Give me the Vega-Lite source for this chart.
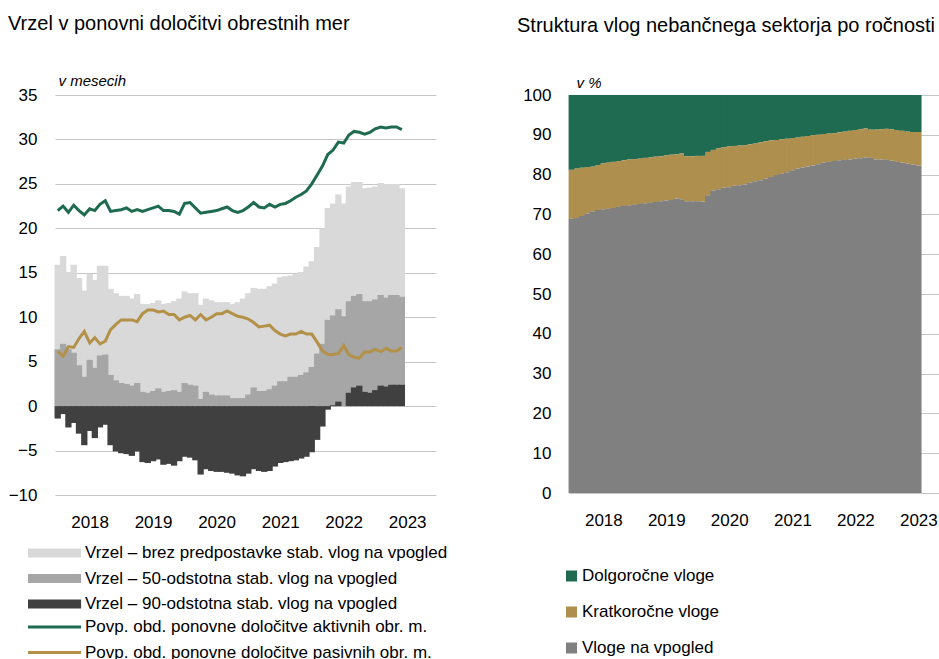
{
"$schema":"https://vega.github.io/schema/vega-lite/v6.json",
"background":"white",
"padding":{"left":8,"top":13,"right":0,"bottom":0},
"spacing":69,
"config":{"font":"Liberation Sans","view":{"stroke":null},
"title":{"fontSize":20,"fontWeight":"normal","anchor":"start","frame":"group","color":"#000000","font":"Liberation Sans"},
"axis":{"labelFont":"Liberation Sans","titleFont":"Liberation Sans","labelColor":"#000000","titleColor":"#000000"},
"legend":{"labelFont":"Liberation Sans","labelColor":"#000000","labelFontSize":17,"labelLimit":600,"padding":0,"title":null}},
"datasets":{
"left":[
{"m":"2017-07","A":15.9,"B":6.4,"C":-1.4,"akt":22.0,"pas":6.2},
{"m":"2017-08","A":16.9,"B":7.0,"C":-0.9,"akt":22.5,"pas":5.6},
{"m":"2017-09","A":15.1,"B":6.4,"C":-2.4,"akt":21.8,"pas":6.7},
{"m":"2017-10","A":15.9,"B":6.0,"C":-1.9,"akt":22.6,"pas":6.6},
{"m":"2017-11","A":14.4,"B":4.6,"C":-3.1,"akt":22.0,"pas":7.6},
{"m":"2017-12","A":13.0,"B":3.3,"C":-4.4,"akt":21.5,"pas":8.4},
{"m":"2018-01","A":14.9,"B":5.2,"C":-2.8,"akt":22.2,"pas":7.1},
{"m":"2018-02","A":14.2,"B":4.3,"C":-3.6,"akt":22.0,"pas":7.7},
{"m":"2018-03","A":15.8,"B":5.7,"C":-2.4,"akt":22.7,"pas":7.0},
{"m":"2018-04","A":15.8,"B":5.8,"C":-2.1,"akt":23.1,"pas":7.3},
{"m":"2018-05","A":13.2,"B":3.5,"C":-4.4,"akt":21.9,"pas":8.6},
{"m":"2018-06","A":12.7,"B":2.9,"C":-5.1,"akt":22.0,"pas":9.2},
{"m":"2018-07","A":12.4,"B":2.6,"C":-5.3,"akt":22.1,"pas":9.7},
{"m":"2018-08","A":12.4,"B":2.5,"C":-5.4,"akt":22.3,"pas":9.7},
{"m":"2018-09","A":12.1,"B":2.3,"C":-5.6,"akt":21.9,"pas":9.7},
{"m":"2018-10","A":12.6,"B":2.6,"C":-5.1,"akt":22.1,"pas":9.5},
{"m":"2018-11","A":11.5,"B":1.6,"C":-6.3,"akt":21.9,"pas":10.4},
{"m":"2018-12","A":11.5,"B":1.5,"C":-6.4,"akt":22.1,"pas":10.8},
{"m":"2019-01","A":11.6,"B":1.7,"C":-6.2,"akt":22.3,"pas":10.8},
{"m":"2019-02","A":11.9,"B":2.0,"C":-6.0,"akt":22.5,"pas":10.6},
{"m":"2019-03","A":11.5,"B":1.6,"C":-6.6,"akt":22.0,"pas":10.7},
{"m":"2019-04","A":11.6,"B":1.7,"C":-6.5,"akt":22.0,"pas":10.3},
{"m":"2019-05","A":11.8,"B":1.8,"C":-6.7,"akt":21.9,"pas":10.3},
{"m":"2019-06","A":12.1,"B":1.6,"C":-6.2,"akt":21.6,"pas":9.7},
{"m":"2019-07","A":12.9,"B":2.6,"C":-5.7,"akt":22.8,"pas":10.0},
{"m":"2019-08","A":12.7,"B":2.4,"C":-5.8,"akt":22.9,"pas":10.2},
{"m":"2019-09","A":12.7,"B":2.3,"C":-6.1,"akt":22.3,"pas":9.7},
{"m":"2019-10","A":11.4,"B":0.8,"C":-7.7,"akt":21.7,"pas":10.3},
{"m":"2019-11","A":12.1,"B":1.6,"C":-7.1,"akt":21.8,"pas":9.7},
{"m":"2019-12","A":11.9,"B":1.3,"C":-7.3,"akt":21.9,"pas":10.0},
{"m":"2020-01","A":11.7,"B":1.2,"C":-7.4,"akt":22.0,"pas":10.4},
{"m":"2020-02","A":11.7,"B":1.2,"C":-7.4,"akt":22.2,"pas":10.4},
{"m":"2020-03","A":11.7,"B":1.2,"C":-7.5,"akt":22.4,"pas":10.7},
{"m":"2020-04","A":11.5,"B":0.9,"C":-7.6,"akt":22.0,"pas":10.4},
{"m":"2020-05","A":11.7,"B":0.9,"C":-7.8,"akt":21.8,"pas":10.1},
{"m":"2020-06","A":12.1,"B":0.9,"C":-7.9,"akt":22.0,"pas":10.0},
{"m":"2020-07","A":12.7,"B":1.3,"C":-7.6,"akt":22.4,"pas":9.8},
{"m":"2020-08","A":13.3,"B":2.1,"C":-7.1,"akt":22.9,"pas":9.4},
{"m":"2020-09","A":13.2,"B":1.7,"C":-7.3,"akt":22.4,"pas":8.9},
{"m":"2020-10","A":13.2,"B":1.7,"C":-7.4,"akt":22.3,"pas":9.0},
{"m":"2020-11","A":13.5,"B":1.9,"C":-7.3,"akt":22.7,"pas":9.1},
{"m":"2020-12","A":13.8,"B":2.3,"C":-6.8,"akt":22.4,"pas":8.5},
{"m":"2021-01","A":14.5,"B":2.8,"C":-6.4,"akt":22.7,"pas":8.1},
{"m":"2021-02","A":14.6,"B":2.8,"C":-6.3,"akt":22.8,"pas":7.9},
{"m":"2021-03","A":14.7,"B":3.3,"C":-6.2,"akt":23.1,"pas":8.1},
{"m":"2021-04","A":14.9,"B":3.3,"C":-6.1,"akt":23.5,"pas":8.1},
{"m":"2021-05","A":15.1,"B":3.5,"C":-5.9,"akt":23.8,"pas":8.4},
{"m":"2021-06","A":15.7,"B":3.8,"C":-5.7,"akt":24.2,"pas":8.1},
{"m":"2021-07","A":16.3,"B":4.4,"C":-5.2,"akt":25.0,"pas":8.1},
{"m":"2021-08","A":17.9,"B":5.9,"C":-3.8,"akt":26.0,"pas":7.2},
{"m":"2021-09","A":20.0,"B":7.0,"C":-2.3,"akt":27.0,"pas":6.2},
{"m":"2021-10","A":22.3,"B":9.7,"C":-0.4,"akt":28.3,"pas":5.8},
{"m":"2021-11","A":22.8,"B":10.2,"C":0.1,"akt":28.8,"pas":5.8},
{"m":"2021-12","A":23.8,"B":10.9,"C":0.5,"akt":29.7,"pas":5.9},
{"m":"2022-01","A":22.8,"B":10.1,"C":0.0,"akt":29.6,"pas":6.8},
{"m":"2022-02","A":24.7,"B":11.8,"C":1.5,"akt":30.5,"pas":5.8},
{"m":"2022-03","A":25.2,"B":12.4,"C":2.1,"akt":30.9,"pas":5.5},
{"m":"2022-04","A":25.2,"B":12.6,"C":2.3,"akt":30.8,"pas":5.4},
{"m":"2022-05","A":24.5,"B":11.8,"C":1.6,"akt":30.6,"pas":6.1},
{"m":"2022-06","A":24.6,"B":11.8,"C":1.5,"akt":30.8,"pas":6.1},
{"m":"2022-07","A":24.7,"B":12.0,"C":1.8,"akt":31.2,"pas":6.4},
{"m":"2022-08","A":25.1,"B":12.5,"C":2.3,"akt":31.4,"pas":6.1},
{"m":"2022-09","A":25.0,"B":12.2,"C":2.2,"akt":31.3,"pas":6.5},
{"m":"2022-10","A":25.0,"B":12.5,"C":2.4,"akt":31.4,"pas":6.2},
{"m":"2022-11","A":25.0,"B":12.5,"C":2.4,"akt":31.4,"pas":6.2},
{"m":"2022-12","A":24.5,"B":12.3,"C":2.4,"akt":31.1,"pas":6.6}
],
"right":[
{"m":"2017-07","V":68.9,"K":12.3,"D":18.8},
{"m":"2017-08","V":69.1,"K":12.4,"D":18.5},
{"m":"2017-09","V":69.6,"K":12.1,"D":18.3},
{"m":"2017-10","V":70.2,"K":11.7,"D":18.1},
{"m":"2017-11","V":70.7,"K":11.3,"D":18.0},
{"m":"2017-12","V":71.1,"K":11.3,"D":17.6},
{"m":"2018-01","V":71.3,"K":11.5,"D":17.2},
{"m":"2018-02","V":71.4,"K":11.6,"D":17.0},
{"m":"2018-03","V":71.6,"K":11.6,"D":16.8},
{"m":"2018-04","V":71.9,"K":11.5,"D":16.6},
{"m":"2018-05","V":72.1,"K":11.5,"D":16.4},
{"m":"2018-06","V":72.3,"K":11.5,"D":16.2},
{"m":"2018-07","V":72.4,"K":11.5,"D":16.1},
{"m":"2018-08","V":72.6,"K":11.4,"D":16.0},
{"m":"2018-09","V":72.8,"K":11.4,"D":15.8},
{"m":"2018-10","V":72.9,"K":11.4,"D":15.7},
{"m":"2018-11","V":73.1,"K":11.4,"D":15.5},
{"m":"2018-12","V":73.3,"K":11.3,"D":15.4},
{"m":"2019-01","V":73.5,"K":11.3,"D":15.2},
{"m":"2019-02","V":73.6,"K":11.4,"D":15.0},
{"m":"2019-03","V":74.0,"K":11.1,"D":14.9},
{"m":"2019-04","V":73.8,"K":11.5,"D":14.7},
{"m":"2019-05","V":73.3,"K":11.3,"D":15.4},
{"m":"2019-06","V":73.3,"K":11.3,"D":15.4},
{"m":"2019-07","V":73.3,"K":11.4,"D":15.3},
{"m":"2019-08","V":73.2,"K":11.5,"D":15.3},
{"m":"2019-09","V":74.8,"K":10.9,"D":14.3},
{"m":"2019-10","V":76.0,"K":10.2,"D":13.8},
{"m":"2019-11","V":76.3,"K":10.3,"D":13.4},
{"m":"2019-12","V":76.7,"K":10.2,"D":13.1},
{"m":"2020-01","V":76.8,"K":10.3,"D":12.9},
{"m":"2020-02","V":77.2,"K":10.0,"D":12.8},
{"m":"2020-03","V":77.3,"K":10.0,"D":12.7},
{"m":"2020-04","V":77.5,"K":9.9,"D":12.6},
{"m":"2020-05","V":78.0,"K":9.6,"D":12.4},
{"m":"2020-06","V":78.3,"K":9.5,"D":12.2},
{"m":"2020-07","V":78.6,"K":9.5,"D":11.9},
{"m":"2020-08","V":79.0,"K":9.4,"D":11.6},
{"m":"2020-09","V":79.4,"K":9.2,"D":11.4},
{"m":"2020-10","V":79.9,"K":8.8,"D":11.3},
{"m":"2020-11","V":80.2,"K":8.7,"D":11.1},
{"m":"2020-12","V":80.6,"K":8.4,"D":11.0},
{"m":"2021-01","V":81.1,"K":8.1,"D":10.8},
{"m":"2021-02","V":81.5,"K":7.8,"D":10.7},
{"m":"2021-03","V":81.8,"K":7.7,"D":10.5},
{"m":"2021-04","V":82.0,"K":7.7,"D":10.3},
{"m":"2021-05","V":82.3,"K":7.6,"D":10.1},
{"m":"2021-06","V":82.6,"K":7.4,"D":10.0},
{"m":"2021-07","V":83.0,"K":7.2,"D":9.8},
{"m":"2021-08","V":83.2,"K":7.1,"D":9.7},
{"m":"2021-09","V":83.4,"K":7.0,"D":9.6},
{"m":"2021-10","V":83.6,"K":7.0,"D":9.4},
{"m":"2021-11","V":83.7,"K":7.1,"D":9.2},
{"m":"2021-12","V":83.8,"K":7.2,"D":9.0},
{"m":"2022-01","V":84.0,"K":7.2,"D":8.8},
{"m":"2022-02","V":84.1,"K":7.3,"D":8.6},
{"m":"2022-03","V":84.3,"K":7.3,"D":8.4},
{"m":"2022-04","V":84.2,"K":7.1,"D":8.7},
{"m":"2022-05","V":83.8,"K":7.5,"D":8.7},
{"m":"2022-06","V":83.8,"K":7.6,"D":8.6},
{"m":"2022-07","V":83.7,"K":7.8,"D":8.5},
{"m":"2022-08","V":83.5,"K":7.9,"D":8.6},
{"m":"2022-09","V":83.2,"K":8.0,"D":8.8},
{"m":"2022-10","V":83.0,"K":8.0,"D":9.0},
{"m":"2022-11","V":82.8,"K":8.0,"D":9.2},
{"m":"2022-12","V":82.5,"K":8.2,"D":9.3},
{"m":"2023-01","V":82.3,"K":8.4,"D":9.3}
]},
"hconcat":[
{
"width":381,"height":400,
"title":{"text":"Vrzel v ponovni določitvi obrestnih mer","dx":-47,"offset":39.5},
"data":{"name":"left"},
"layer":[
{"transform":[{"fold":["A","B","C"]}],
"mark":{"type":"bar","width":6.3,"strokeWidth":0},
"encoding":{
"x":{"field":"m","timeUnit":"utcyearmonth","type":"temporal","bandPosition":0.5,
"scale":{"domain":[{"year":2017,"month":7,"date":1,"utc":true},{"year":2023,"month":7,"date":1,"utc":true}]},
"axis":{"title":null,"grid":false,"domain":false,"ticks":false,"labelFontSize":17,"labelPadding":19,
"values":[{"year":2018,"month":1,"date":16,"utc":true},{"year":2019,"month":1,"date":16,"utc":true},{"year":2020,"month":1,"date":16,"utc":true},{"year":2021,"month":1,"date":16,"utc":true},{"year":2022,"month":1,"date":16,"utc":true},{"year":2023,"month":1,"date":16,"utc":true}],
"labelExpr":"utcFormat(datum.value, '%Y')"}},
"y":{"field":"value","type":"quantitative","stack":null,
"scale":{"domain":[-10,35],"nice":false},
"axis":{"values":[-10,-5,0,5,10,15,20,25,30,35],"grid":true,"gridColor":"#c6c6c6","gridWidth":1,"domain":false,"ticks":false,"labelPadding":18,"labelFontSize":17,
"title":"v mesecih","titleAngle":0,"titleFontStyle":"italic","titleFontWeight":"normal","titleFontSize":15,"titleAlign":"left","titleBaseline":"alphabetic","titleX":3,"titleY":-10}},
"color":{"field":"key","type":"nominal",
"scale":{"domain":["A","B","C"],"range":["#d9d9d9","#a6a6a6","#404040"]},
"legend":{"orient":"none","legendX":-31,"legendY":449.5,"symbolType":"M-1,-1H10.8V1H-1Z","symbolSize":81,"symbolStrokeWidth":0,"labelOffset":44,"rowPadding":7.5,
"labelExpr":"datum.label == 'A' ? 'Vrzel – brez predpostavke stab. vlog na vpogled' : datum.label == 'B' ? 'Vrzel – 50-odstotna stab. vlog na vpogled' : 'Vrzel – 90-odstotna stab. vlog na vpogled'"}},
"order":{"field":"key","sort":"ascending"}
}},
{"transform":[{"fold":["akt","pas"]}],
"mark":{"type":"line","strokeWidth":3},
"encoding":{
"x":{"field":"m","timeUnit":"utcyearmonth","type":"temporal","bandPosition":0.5},
"y":{"field":"value","type":"quantitative"},
"color":{"field":"key","type":"nominal",
"scale":{"domain":["akt","pas"],"range":["#1e6b50","#b39148"]},
"legend":{"orient":"none","legendX":-31,"legendY":523.5,"symbolType":"M-1,0H10.8","symbolSize":81,"symbolStrokeWidth":3,"labelOffset":44,"rowPadding":7.5,
"labelExpr":"datum.label == 'akt' ? 'Povp. obd. ponovne določitve aktivnih obr. m.' : 'Povp. obd. ponovne določitve pasivnih obr. m.'"}}
}}
],
"resolve":{"scale":{"color":"independent"}}
},
{
"width":378,"height":398,
"title":{"text":"Struktura vlog nebančnega sektorja po ročnosti","dx":-52,"offset":39.5},
"data":{"name":"right"},
"transform":[{"fold":["D","K","V"]}],
"mark":{"type":"bar","width":6.2,"strokeWidth":0},
"encoding":{
"x":{"field":"m","timeUnit":"utcyearmonth","type":"temporal","bandPosition":0.5,
"scale":{"domain":[{"year":2017,"month":7,"date":1,"utc":true},{"year":2023,"month":7,"date":1,"utc":true}]},
"axis":{"title":null,"grid":false,"domain":false,"ticks":false,"labelFontSize":17,"labelPadding":19,
"values":[{"year":2018,"month":1,"date":16,"utc":true},{"year":2019,"month":1,"date":16,"utc":true},{"year":2020,"month":1,"date":16,"utc":true},{"year":2021,"month":1,"date":16,"utc":true},{"year":2022,"month":1,"date":16,"utc":true},{"year":2023,"month":1,"date":16,"utc":true}],
"labelExpr":"utcFormat(datum.value, '%Y')"}},
"y":{"field":"value","type":"quantitative","stack":"zero",
"scale":{"domain":[0,100],"nice":false},
"axis":{"values":[0,10,20,30,40,50,60,70,80,90,100],"grid":true,"gridColor":"#c6c6c6","gridWidth":1,"domain":true,"domainColor":"#c6c6c6","ticks":false,"labelPadding":18,"labelFontSize":17,
"title":"v %","titleAngle":0,"titleFontStyle":"italic","titleFontWeight":"normal","titleFontSize":15,"titleAlign":"left","titleBaseline":"alphabetic","titleX":7,"titleY":-8}},
"color":{"field":"key","type":"nominal",
"scale":{"domain":["D","K","V"],"range":["#1f6b52","#ae8f4e","#808080"]},
"legend":{"orient":"none","legendX":508,"legendY":472.5,"symbolType":"square","symbolSize":121,"symbolStrokeWidth":0,"labelOffset":2,"rowPadding":18,
"labelExpr":"datum.label == 'D' ? 'Dolgoročne vloge' : datum.label == 'K' ? 'Kratkoročne vloge' : 'Vloge na vpogled'"}},
"order":{"field":"key","sort":"descending"}
}
}
]
}
